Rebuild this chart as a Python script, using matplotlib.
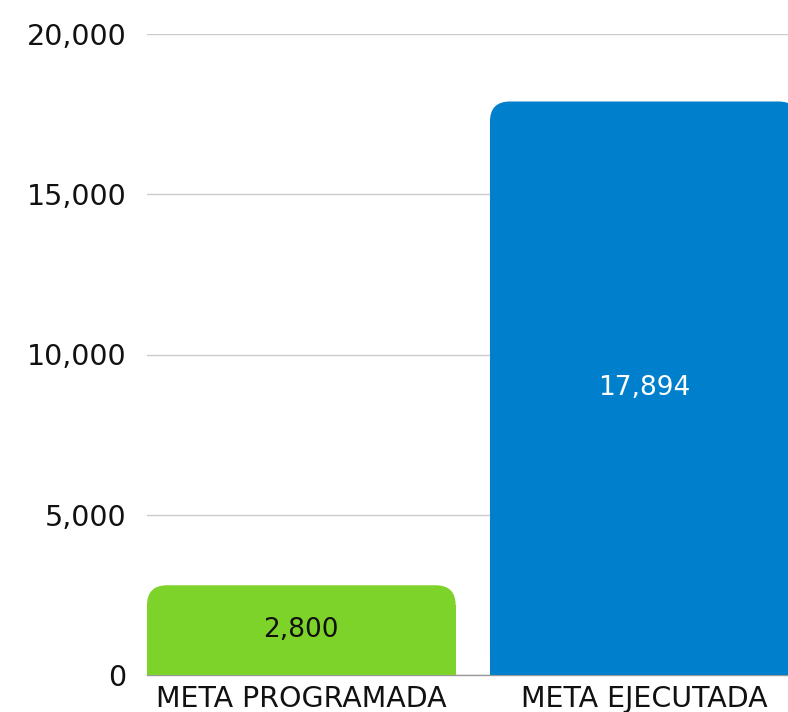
import matplotlib
matplotlib.use("Agg")
import matplotlib.pyplot as plt
from matplotlib.patches import FancyBboxPatch, Rectangle
from matplotlib.ticker import FuncFormatter

# datos
categorias = ["META PROGRAMADA", "META EJECUTADA"]
valores = [2800, 17894]
colores = ["#7ED32B", "#007FCC"]
colores_texto = ["#111111", "#FFFFFF"]
yticks = [0, 5000, 10000, 15000, 20000]

plt.rcParams['font.family'] = ['DejaVu Sans']

fig = plt.figure(figsize=(7.88, 7.12), dpi=100)
ax = fig.add_axes([147/788, 37/712, 641/788, 641/712])

ancho = 0.9
ax.set_xlim(-0.45, 1.419)
ax.set_ylim(0, 20000)

# radio de las esquinas en pixeles -> unidades de datos
px_x = 641 / (1.419 + 0.45)
px_y = 641 / 20000
r = 20
rx = r / px_x
ry = r / px_y

for i, (v, c) in enumerate(zip(valores, colores)):
    x0 = i - ancho/2
    # parte superior redondeada
    p = FancyBboxPatch((x0, 0), ancho, v,
                       boxstyle="round,pad=0,rounding_size=%f" % rx,
                       mutation_aspect=ry/rx, fc=c, ec="none", zorder=3)
    ax.add_patch(p)
    # parte inferior recta
    ax.add_patch(Rectangle((x0, 0), ancho, v - ry, fc=c, ec="none", zorder=3))
    ax.text(i, v/2, f"{v:,}", ha="center", va="center", fontsize=19,
            color=colores_texto[i], zorder=4)

ax.set_yticks(yticks)
ax.yaxis.set_major_formatter(FuncFormatter(lambda y, p: f"{int(y):,}"))
ax.set_xticks(range(len(categorias)))
ax.set_xticklabels(categorias)
ax.tick_params(axis="y", length=0, pad=15, labelsize=20.5, labelcolor="#111111")
ax.tick_params(axis="x", length=0, pad=7, labelsize=20.5, labelcolor="#111111")

ax.grid(axis="y", color="#cccccc", linewidth=1, zorder=0)
for s in ["top", "right", "left"]:
    ax.spines[s].set_visible(False)
ax.spines["bottom"].set_color("#999999")
ax.spines["bottom"].set_linewidth(1)

fig.savefig("out.png", dpi=100)
